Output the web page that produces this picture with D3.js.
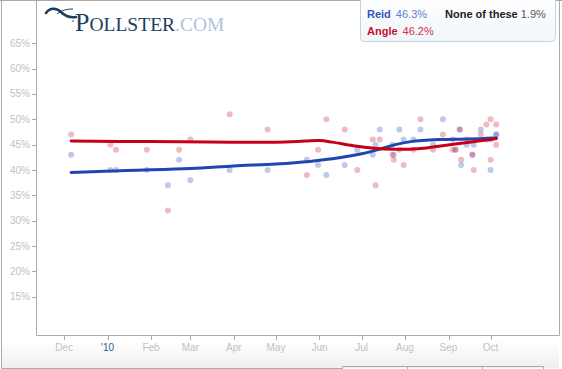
<!DOCTYPE html>
<html>
<head>
<meta charset="utf-8">
<script src="https://cdn.jsdelivr.net/npm/d3@7"></script>
<style>
  body { margin: 0; background: #fff; }
  svg { display: block; }
</style>
</head>
<body>
<script>
// poll dates and results (Reid vs Angle)
let pollDates = ["2009-12-06", "2010-01-03", "2010-01-07", "2010-01-29", "2010-02-13", "2010-02-21",
    "2010-03-01", "2010-03-29", "2010-04-25", "2010-05-23", "2010-05-31", "2010-06-06",
    "2010-06-19", "2010-06-28", "2010-07-09", "2010-07-11", "2010-07-14", "2010-07-23",
    "2010-07-24", "2010-07-28", "2010-07-31", "2010-08-07", "2010-08-12", "2010-08-21",
    "2010-08-28", "2010-09-04", "2010-09-06", "2010-09-09", "2010-09-10", "2010-09-14",
    "2010-09-18", "2010-09-19", "2010-09-24", "2010-09-28", "2010-10-01", "2010-10-01",
    "2010-10-05", "2010-10-05"];
let reidPolls = [43, 40, 40, 40, 37, 42, 38, 40, 40, 42, 41, 39, 41, 44, 43, 45, 48, 45,
    43, 48, 46, 46, 48, 45, 50, 46, 44, 48, 41, 45, 43, 45, 48, 46, 40, 46, 47, 47];
let anglePolls = [47, 45, 44, 44, 32, 44, 46, 51, 48, 39, 44, 50, 48, 40, 46, 37, 46, 43,
    42, 44, 41, 44, 50, 44, 47, 44, 44, 48, 42, 46, 43, 40, 47, 49, 42, 50, 49, 45];

// trend estimates
let reidTrendDates = ["2009-12-06", "2010-01-15", "2010-03-01", "2010-04-01", "2010-05-01",
    "2010-05-25", "2010-06-15", "2010-07-01", "2010-07-15", "2010-07-25", "2010-08-05",
    "2010-08-25", "2010-09-15", "2010-10-05"];
let reidTrend = [39.5, 39.9, 40.3, 40.8, 41.2, 41.7, 42.4, 43.2, 44.2, 45.0, 45.6, 46.0, 46.1, 46.3];
let angleTrendDates = ["2009-12-06", "2010-02-01", "2010-04-01", "2010-05-01", "2010-05-22",
    "2010-06-01", "2010-06-10", "2010-06-25", "2010-07-10", "2010-07-25", "2010-08-10",
    "2010-08-25", "2010-09-10", "2010-09-25", "2010-10-05"];
let angleTrend = [45.7, 45.6, 45.5, 45.5, 45.7, 45.8, 45.5, 44.8, 44.3, 44.1, 44.2, 44.7, 45.3, 45.8, 46.2];

let yTicks = [15, 20, 25, 30, 35, 40, 45, 50, 55, 60, 65];
let monthNames = ["'10", "Feb", "Mar", "Apr", "May", "Jun", "Jul", "Aug", "Sep", "Oct", "Nov", "Dec"];

let parse = d3.timeParse("%Y-%m-%d");

let width = 562, height = 369;
let plotLeft = 36, plotRight = 559, plotTop = 1, plotBottom = 335;

let svg = d3.select("body")
    .append("svg")
    .attr("width", width).attr("height", height)
    .style("font-family", "'Liberation Sans', Arial, sans-serif");

let xScale = d3.scaleTime()
    .domain([parse("2009-12-01"), parse("2010-10-01")])
    .range([64.1, 490.6]);

let yScale = d3.scaleLinear()
    .domain([15, 65])
    .range([296.7, 43.3]);

// outer frame and footer strip
let grad = svg.append("defs").append("linearGradient")
    .attr("id", "foot").attr("x1", 0).attr("y1", 0).attr("x2", 0).attr("y2", 1);
grad.append("stop").attr("offset", 0).attr("stop-color", "#ffffff");
grad.append("stop").attr("offset", 1).attr("stop-color", "#efefef");

svg.append("rect")
    .attr("x", 1).attr("y", 341).attr("width", plotRight - 1).attr("height", 27)
    .attr("fill", "url(#foot)");

svg.append("path")
    .attr("d", "M1.5,0.5 L1.5,368.5 L342,368.5 M0,0.5 L" + width + ",0.5")
    .attr("fill", "none").attr("stroke", "#aaa").attr("stroke-width", 1);

// footer tabs
svg.append("path")
    .attr("d", "M342.5,369 L342.5,366.5 L407.5,366.5 L407.5,369 M407.5,366.5 L482.5,366.5 L482.5,369" +
        " M482.5,366.5 L543.5,366.5 L543.5,369")
    .attr("fill", "none").attr("stroke", "#aaa");

// plot frame
svg.append("path")
    .attr("d", "M" + (plotLeft + 0.5) + "," + plotTop + " L" + (plotLeft + 0.5) + "," + (plotBottom + 0.5) +
        " L" + (plotRight + 0.5) + "," + (plotBottom + 0.5) + " L" + (plotRight + 0.5) + "," + plotTop)
    .attr("fill", "none").attr("stroke", "#aaa");

// y axis
let yAxis = svg.append("g");
yAxis.selectAll("line")
    .data(yTicks).enter()
    .append("line")
    .attr("x1", plotLeft - 4).attr("x2", plotLeft)
    .attr("y1", function (d) { return Math.round(yScale(d)) + 0.5; })
    .attr("y2", function (d) { return Math.round(yScale(d)) + 0.5; })
    .attr("stroke", "#aaa");
yAxis.selectAll("text")
    .data(yTicks).enter()
    .append("text")
    .attr("x", plotLeft - 6)
    .attr("y", function (d) { return yScale(d) + 3.5; })
    .attr("text-anchor", "end")
    .attr("font-size", 10)
    .attr("fill", "#c2c2c2")
    .text(function (d) { return d + "%"; });

// x axis
let months = d3.timeMonth.range(parse("2009-12-01"), parse("2010-10-02"));
let xAxis = svg.append("g");
xAxis.selectAll("line")
    .data(months).enter()
    .append("line")
    .attr("x1", function (d) { return Math.round(xScale(d)) + 0.5; })
    .attr("x2", function (d) { return Math.round(xScale(d)) + 0.5; })
    .attr("y1", plotBottom).attr("y2", plotBottom + 5)
    .attr("stroke", "#aaa");
xAxis.selectAll("text")
    .data(months).enter()
    .append("text")
    .attr("x", function (d) { return xScale(d); })
    .attr("y", 351)
    .attr("text-anchor", "middle")
    .attr("font-size", 10)
    .attr("fill", function (d) { return d.getMonth() === 0 ? "#2d5e8c" : "#c2c2c2"; })
    .text(function (d) { return d.getMonth() === 11 ? "Dec" : monthNames[d.getMonth()]; });

// poll points
let polls = pollDates.map(function (d, i) {
    return { date: parse(d), reid: reidPolls[i], angle: anglePolls[i] };
});

svg.append("g").selectAll("circle")
    .data(polls).enter()
    .append("circle")
    .attr("cx", function (d) { return xScale(d.date); })
    .attr("cy", function (d) { return yScale(d.reid); })
    .attr("r", 3)
    .attr("fill", "#2850c0")
    .attr("fill-opacity", 0.3);

svg.append("g").selectAll("circle")
    .data(polls).enter()
    .append("circle")
    .attr("cx", function (d) { return xScale(d.date); })
    .attr("cy", function (d) { return yScale(d.angle); })
    .attr("r", 3)
    .attr("fill", "#d21a36")
    .attr("fill-opacity", 0.3);

// trend lines
let line = d3.line()
    .x(function (d) { return xScale(d[0]); })
    .y(function (d) { return yScale(d[1]); })
    .curve(d3.curveCatmullRom.alpha(0.5));

svg.append("path")
    .datum(reidTrendDates.map(function (d, i) { return [parse(d), reidTrend[i]]; }))
    .attr("d", line)
    .attr("fill", "none")
    .attr("stroke", "#2145b2")
    .attr("stroke-width", 3)
    .attr("stroke-linecap", "round");

svg.append("path")
    .datum(angleTrendDates.map(function (d, i) { return [parse(d), angleTrend[i]]; }))
    .attr("d", line)
    .attr("fill", "none")
    .attr("stroke", "#c4001c")
    .attr("stroke-width", 3)
    .attr("stroke-linecap", "round");

// logo
let logo = svg.append("g");
logo.append("path")
    .attr("d", "M46,13 C50,7 57,8 61,12 C65,16 70,18 76,17")
    .attr("fill", "none").attr("stroke", "#1b3d5e").attr("stroke-width", 2.6)
    .attr("stroke-linecap", "round");
logo.append("path")
    .attr("d", "M57,14 C62,10 67,9 73,9")
    .attr("fill", "none").attr("stroke", "#1b3d5e").attr("stroke-width", 1);
logo.append("circle").attr("cx", 73).attr("cy", 21).attr("r", 0.8).attr("fill", "#1b3d5e");
let logoText = logo.append("text")
    .attr("x", 75).attr("y", 31)
    .style("font-family", "'Liberation Serif', 'Times New Roman', serif");
logoText.append("tspan").attr("font-size", 26).attr("fill", "#1b3d5e").text("P");
logoText.append("tspan").attr("font-size", 19.5).attr("fill", "#1b3d5e").text("OLLSTER");
logoText.append("tspan").attr("font-size", 19.5).attr("fill", "#a9c5dc").text(".COM");

// legend box
let lgGrad = svg.select("defs").append("linearGradient")
    .attr("id", "lg").attr("x1", 0).attr("y1", 0).attr("x2", 0).attr("y2", 1);
lgGrad.append("stop").attr("offset", 0).attr("stop-color", "#ffffff");
lgGrad.append("stop").attr("offset", 1).attr("stop-color", "#f1f6fa");

svg.append("rect")
    .attr("x", 360.5).attr("y", -5).attr("width", 195).attr("height", 46.5)
    .attr("rx", 4)
    .attr("fill", "url(#lg)")
    .attr("stroke", "#c3d4e4");

let legend = svg.append("g").attr("font-size", 11);
let l1 = legend.append("text").attr("x", 367).attr("y", 18);
l1.append("tspan").attr("font-weight", "bold").attr("fill", "#3556b4").text("Reid");
l1.append("tspan").attr("dx", 5).attr("fill", "#5f7fcf").text("46.3%");
let l2 = legend.append("text").attr("x", 445).attr("y", 18);
l2.append("tspan").attr("font-weight", "bold").attr("fill", "#222").text("None of these");
l2.append("tspan").attr("dx", 3).attr("fill", "#555").text("1.9%");
let l3 = legend.append("text").attr("x", 367).attr("y", 35);
l3.append("tspan").attr("font-weight", "bold").attr("fill", "#c8102e").text("Angle");
l3.append("tspan").attr("dx", 5).attr("fill", "#d0304a").text("46.2%");
</script>
</body>
</html>
